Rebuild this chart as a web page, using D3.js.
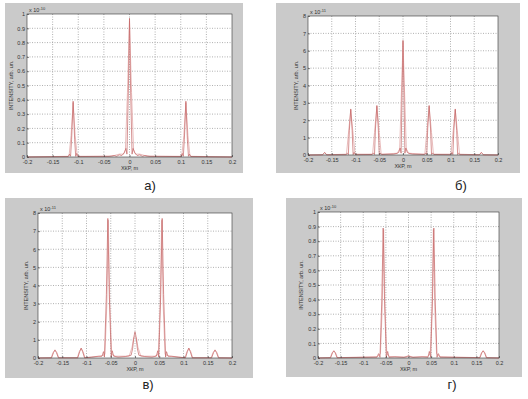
<!DOCTYPE html>
<html>
<head>
<meta charset="utf-8">
<script src="https://cdn.jsdelivr.net/npm/d3@7"></script>
<style>
  body { margin: 0; background: #fff; }
  svg { display: block; }
  text { font-family: Arial, "Liberation Sans", sans-serif; }
</style>
</head>
<body>
<svg id="fig"></svg>
<script>
// tick labels, shared by all four plots
const xTicks = [-0.2, -0.15, -0.1, -0.05, 0, 0.05, 0.1, 0.15, 0.2];
const xTickLabels = ["-0.2", "-0.15", "-0.1", "-0.05", "0", "0.05", "0.1", "0.15", "0.2"];
const yTicksUnit = [0, 0.1, 0.2, 0.3, 0.4, 0.5, 0.6, 0.7, 0.8, 0.9, 1];
const yTicksEight = [0, 1, 2, 3, 4, 5, 6, 7, 8];
const captions = ["а)", "б)", "в)", "г)"];
const exponents = ["-10", "-11", "-11", "-10"];

// а) intensity x 1e-10
const redA = [[-0.2,0],[-0.12,0.003],[-0.117,0.02],[-0.115,0.005],[-0.113,0.12],[-0.11,0.39],[-0.107,0.12],[-0.105,0.005],[-0.103,0.025],[-0.1,0.003],
  [-0.04,0.005],[-0.03,0.01],[-0.025,0.005],[-0.02,0.015],[-0.015,0.01],[-0.01,0.03],[-0.007,0.06],[-0.005,0.02],[-0.002,0.5],[0,0.97],
  [0.002,0.5],[0.005,0.02],[0.007,0.06],[0.01,0.03],[0.015,0.01],[0.02,0.015],[0.025,0.005],[0.03,0.01],[0.04,0.005],
  [0.1,0.003],[0.103,0.025],[0.105,0.005],[0.107,0.12],[0.11,0.39],[0.113,0.12],[0.115,0.005],[0.117,0.02],[0.12,0.003],[0.2,0]];
const pinkA = [[-0.2,0],[-0.118,0.005],[-0.114,0.15],[-0.11,0.38],[-0.106,0.15],[-0.102,0.005],
  [-0.035,0.005],[-0.02,0.02],[-0.012,0.02],[-0.008,0.05],[-0.004,0.45],[0,0.95],[0.004,0.45],[0.008,0.05],[0.012,0.02],[0.02,0.02],[0.035,0.005],
  [0.102,0.005],[0.106,0.15],[0.11,0.38],[0.114,0.15],[0.118,0.005],[0.2,0]];

// б) intensity x 1e-11
const redB = [[-0.2,0],[-0.169,0.01],[-0.165,0.15],[-0.161,0.01],[-0.12,0.02],[-0.117,0.1],[-0.115,0.02],[-0.113,1.4],[-0.11,2.65],[-0.107,1.4],[-0.105,0.02],[-0.103,0.15],[-0.1,0.02],
  [-0.065,0.03],[-0.062,0.12],[-0.06,0.03],[-0.058,1.5],[-0.055,2.85],[-0.052,1.5],[-0.05,0.03],[-0.048,0.12],[-0.045,0.03],
  [-0.02,0.05],[-0.012,0.1],[-0.009,0.15],[-0.006,0.4],[-0.004,0.1],[-0.002,3.5],[0,6.6],[0.002,3.5],[0.004,0.1],[0.006,0.4],[0.009,0.15],[0.012,0.1],[0.02,0.05],
  [0.045,0.03],[0.048,0.12],[0.05,0.03],[0.052,1.5],[0.055,2.85],[0.058,1.5],[0.06,0.03],[0.062,0.12],[0.065,0.03],
  [0.1,0.02],[0.103,0.15],[0.105,0.02],[0.107,1.4],[0.11,2.65],[0.113,1.4],[0.115,0.02],[0.117,0.1],[0.12,0.02],[0.161,0.01],[0.165,0.15],[0.169,0.01],[0.2,0]];
const pinkB = [[-0.2,0],[-0.17,0.01],[-0.165,0.14],[-0.16,0.01],[-0.119,0.05],[-0.115,1.2],[-0.11,2.6],[-0.105,1.2],[-0.101,0.05],
  [-0.064,0.05],[-0.06,1.3],[-0.055,2.8],[-0.05,1.3],[-0.046,0.05],
  [-0.012,0.1],[-0.007,0.35],[-0.004,3.0],[0,6.5],[0.004,3.0],[0.007,0.35],[0.012,0.1],
  [0.046,0.05],[0.05,1.3],[0.055,2.8],[0.06,1.3],[0.064,0.05],
  [0.101,0.05],[0.105,1.2],[0.11,2.6],[0.115,1.2],[0.119,0.05],[0.16,0.01],[0.165,0.14],[0.17,0.01],[0.2,0]];

// в) intensity x 1e-11
const redC = [[-0.2,0],[-0.172,0.01],[-0.168,0.3],[-0.165,0.45],[-0.162,0.3],[-0.158,0.01],[-0.118,0.01],[-0.114,0.35],[-0.111,0.55],[-0.108,0.35],[-0.104,0.01],
  [-0.09,0.05],[-0.075,0.1],[-0.068,0.1],[-0.065,0.35],[-0.063,0.05],[-0.059,3.5],[-0.056,7.7],[-0.053,3.5],[-0.049,0.05],[-0.047,0.4],[-0.044,0.1],[-0.035,0.05],
  [-0.02,0.08],[-0.008,0.15],[-0.005,0.5],[-0.002,1.2],[0,1.45],[0.002,1.2],[0.005,0.5],[0.008,0.15],[0.02,0.08],
  [0.035,0.05],[0.044,0.1],[0.047,0.4],[0.049,0.05],[0.053,3.5],[0.056,7.7],[0.059,3.5],[0.063,0.05],[0.065,0.35],[0.068,0.1],[0.075,0.1],[0.09,0.05],
  [0.104,0.01],[0.108,0.35],[0.111,0.55],[0.114,0.35],[0.118,0.01],[0.158,0.01],[0.162,0.3],[0.165,0.45],[0.168,0.3],[0.172,0.01],[0.2,0]];
const pinkC = [[-0.2,0],[-0.173,0.01],[-0.169,0.3],[-0.165,0.42],[-0.161,0.3],[-0.157,0.01],[-0.119,0.01],[-0.115,0.35],[-0.111,0.52],[-0.107,0.35],[-0.103,0.01],
  [-0.07,0.1],[-0.062,0.2],[-0.058,3.0],[-0.055,7.6],[-0.052,3.0],[-0.048,0.2],[-0.04,0.1],
  [-0.012,0.1],[-0.006,0.6],[-0.003,1.1],[0,1.2],[0.003,1.1],[0.006,0.6],[0.012,0.1],
  [0.04,0.1],[0.048,0.2],[0.052,3.0],[0.055,7.6],[0.058,3.0],[0.062,0.2],[0.07,0.1],
  [0.103,0.01],[0.107,0.35],[0.111,0.52],[0.115,0.35],[0.119,0.01],[0.157,0.01],[0.161,0.3],[0.165,0.42],[0.169,0.3],[0.173,0.01],[0.2,0]];

// г) intensity x 1e-10
const redD = [[-0.2,0],[-0.172,0.002],[-0.168,0.035],[-0.165,0.05],[-0.162,0.035],[-0.158,0.002],
  [-0.07,0.005],[-0.066,0.03],[-0.063,0.005],[-0.059,0.4],[-0.056,0.89],[-0.053,0.4],[-0.049,0.005],[-0.046,0.045],[-0.043,0.005],
  [-0.03,0.008],[-0.01,0.005],[-0.003,0.012],[0,0.015],[0.003,0.012],[0.01,0.005],[0.03,0.008],
  [0.043,0.005],[0.046,0.045],[0.049,0.005],[0.053,0.4],[0.056,0.89],[0.059,0.4],[0.063,0.005],[0.066,0.03],[0.07,0.005],
  [0.158,0.002],[0.162,0.035],[0.165,0.05],[0.168,0.035],[0.172,0.002],[0.2,0]];
const pinkD = [[-0.2,0],[-0.173,0.002],[-0.169,0.035],[-0.165,0.048],[-0.161,0.035],[-0.157,0.002],
  [-0.068,0.01],[-0.062,0.03],[-0.058,0.35],[-0.055,0.88],[-0.052,0.35],[-0.048,0.03],[-0.042,0.01],
  [-0.005,0.005],[0,0.012],[0.005,0.005],
  [0.042,0.01],[0.048,0.03],[0.052,0.35],[0.055,0.88],[0.058,0.35],[0.062,0.03],[0.068,0.01],
  [0.157,0.002],[0.161,0.035],[0.165,0.048],[0.169,0.035],[0.173,0.002],[0.2,0]];

// layout of the four figure windows (grey box, axes box, caption)
const panels = [
  { box: [5, 3, 238, 170],   ax: [27, 14, 205, 143],  yTicks: yTicksUnit,  yMax: 1, yFmt: d => d3.format("~g")(d), yl: 14, red: redA, pink: pinkA, cap: [150, 190] },
  { box: [276, 3, 244, 170], ax: [308, 16, 190, 139], yTicks: yTicksEight, yMax: 8, yFmt: d => d, yl: 10, red: redB, pink: pinkB, cap: [461, 190] },
  { box: [5, 198, 248, 180], ax: [38, 213, 194, 145], yTicks: yTicksEight, yMax: 8, yFmt: d => d, yl: 10, red: redC, pink: pinkC, cap: [148, 389] },
  { box: [286, 198, 236, 179], ax: [318, 212, 181, 146], yTicks: yTicksUnit, yMax: 1, yFmt: d => d3.format("~g")(d), yl: 15, red: redD, pink: pinkD, cap: [452, 389] }
];

const W = 528, H = 399;
const $svg = d3.select("#fig").attr("width", W).attr("height", H);

panels.forEach(function(p, i) {
  const [bx, by, bw, bh] = p.box;
  const [ax, ay, aw, ah] = p.ax;

  $svg.append("rect")
    .attr("x", bx).attr("y", by).attr("width", bw).attr("height", bh)
    .attr("fill", "#cacaca");

  const g = $svg.append("g");

  const x = d3.scaleLinear().domain([-0.2, 0.2]).range([ax, ax + aw]);
  const y = d3.scaleLinear().domain([0, p.yMax]).range([ay + ah, ay]);

  g.append("rect")
    .attr("x", ax).attr("y", ay).attr("width", aw).attr("height", ah)
    .attr("fill", "#fff");

  // dotted grid
  g.selectAll(".gx").data(xTicks.slice(1, -1)).enter().append("line")
    .attr("x1", d => x(d)).attr("x2", d => x(d))
    .attr("y1", ay).attr("y2", ay + ah)
    .attr("stroke", "#8f8f8f").attr("stroke-width", 0.7).attr("stroke-dasharray", "1,1.5");
  g.selectAll(".gy").data(p.yTicks.slice(1, -1)).enter().append("line")
    .attr("x1", ax).attr("x2", ax + aw)
    .attr("y1", d => y(d)).attr("y2", d => y(d))
    .attr("stroke", "#8f8f8f").attr("stroke-width", 0.7).attr("stroke-dasharray", "1,1.5");

  // curves
  const line = d3.line().x(d => x(d[0])).y(d => y(d[1]));
  g.append("path").datum(p.pink).attr("d", line)
    .attr("fill", "none").attr("stroke", "#e6b4b4").attr("stroke-width", 0.9);
  g.append("path").datum(p.red).attr("d", line)
    .attr("fill", "none").attr("stroke", "#c46464").attr("stroke-width", 0.7);

  // frame and ticks
  g.append("rect")
    .attr("x", ax).attr("y", ay).attr("width", aw).attr("height", ah)
    .attr("fill", "none").attr("stroke", "#333").attr("stroke-width", 0.6);

  const xAxis = d3.axisBottom(x).tickValues(xTicks).tickSize(-2).tickPadding(3)
    .tickFormat((d, k) => xTickLabels[k]);
  const gx = g.append("g").attr("transform", `translate(0,${ay + ah})`).call(xAxis);
  const yAxis = d3.axisLeft(y).tickValues(p.yTicks).tickSize(-2).tickPadding(2).tickFormat(p.yFmt);
  const gy = g.append("g").attr("transform", `translate(${ax},0)`).call(yAxis);

  [gx, gy].forEach(a => {
    a.select(".domain").remove();
    a.selectAll("line").attr("stroke", "#333").attr("stroke-width", 0.6);
    a.selectAll("text").attr("font-size", 5.5).attr("fill", "#333")
      .attr("font-family", "Arial, 'Liberation Sans', sans-serif");
  });

  // exponent above the y axis
  const ex = g.append("text")
    .attr("x", ax + 2).attr("y", ay - 2)
    .attr("font-size", 5.5).attr("fill", "#333");
  ex.append("tspan").text("x 10");
  ex.append("tspan").attr("dy", -2.5).attr("font-size", 4).text(exponents[i]);

  // axis titles
  g.append("text")
    .attr("x", ax + aw / 2).attr("y", ay + ah + 13)
    .attr("text-anchor", "middle").attr("font-size", 5.5).attr("fill", "#333")
    .text("ХКР, m");
  g.append("text")
    .attr("transform", `translate(${ax - p.yl},${ay + ah / 2}) rotate(-90)`)
    .attr("text-anchor", "middle").attr("font-size", 5.5).attr("fill", "#333")
    .text("INTENSITY, arb. un.");

  // caption under each figure
  $svg.append("text")
    .attr("x", p.cap[0]).attr("y", p.cap[1])
    .attr("text-anchor", "middle").attr("font-size", 13).attr("fill", "#222")
    .attr("font-family", "'Liberation Serif', 'DejaVu Serif', serif")
    .text(captions[i]);
});
</script>
</body>
</html>
